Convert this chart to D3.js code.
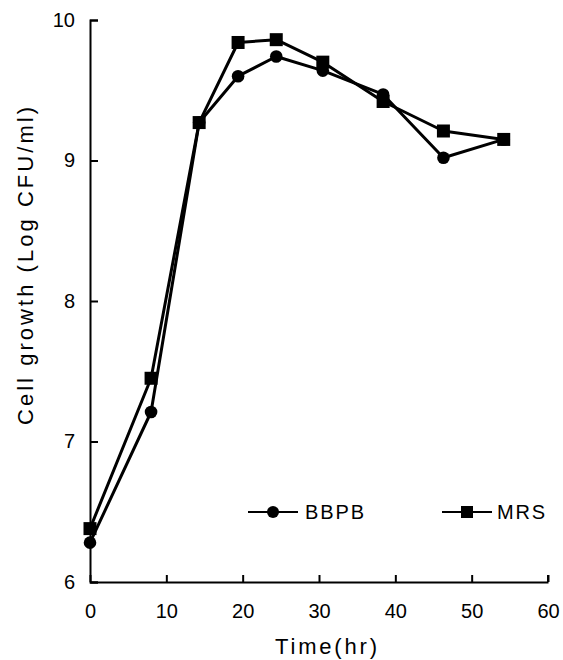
<!DOCTYPE html>
<html>
<head>
<meta charset="utf-8">
<script src="https://cdn.jsdelivr.net/npm/d3@7"></script>
<style>
  body { margin: 0; background: #fff; }
  svg { display: block; font-family: "Liberation Sans", Arial, sans-serif; }
</style>
</head>
<body>
<svg id="chart" width="563" height="660"></svg>
<script>
// sampling times (hr) and cell counts (log CFU/ml)
var times = [0, 8, 14.3, 19.4, 24.4, 30.5, 38.4, 46.3, 54.2];
var bbpb = [6.28, 7.21, 9.27, 9.60, 9.74, 9.64, 9.47, 9.02, 9.15];
var mrs = [6.38, 7.45, 9.27, 9.84, 9.86, 9.70, 9.42, 9.21, 9.15];
var seriesNames = ["BBPB", "MRS"];
var xTicks = [0, 10, 20, 30, 40, 50, 60];
var yTicks = [6, 7, 8, 9, 10];

var margin = {top: 20, right: 15, bottom: 78, left: 90};
var svg = d3.select("#chart");
var W = +svg.attr("width"), H = +svg.attr("height");
var w = W - margin.left - margin.right, h = H - margin.top - margin.bottom;

var g = svg.append("g").attr("transform", "translate(" + margin.left + "," + margin.top + ")");

var x = d3.scaleLinear().domain([0, 60]).range([0, w]);
var y = d3.scaleLinear().domain([6, 10]).range([h, 0]);

// axes, ticks pointing inward
var xAxis = g.append("g")
  .attr("transform", "translate(0," + h + ")")
  .call(d3.axisBottom(x).tickValues(xTicks).tickFormat(d3.format("d"))
    .tickSize(-7).tickSizeOuter(0).tickPadding(22));
var yAxis = g.append("g")
  .call(d3.axisLeft(y).tickValues(yTicks).tickFormat(d3.format("d"))
    .tickSize(-8).tickPadding(15));

[xAxis, yAxis].forEach(function(a){
  a.select(".domain").attr("stroke", "#000").attr("stroke-width", 2);
  a.selectAll(".tick line").attr("stroke", "#000").attr("stroke-width", 2);
  a.selectAll(".tick text").attr("fill", "#000").attr("font-size", 20)
    .attr("font-family", "Liberation Sans, Arial, sans-serif");
});
// right end tick of x axis
xAxis.append("line").attr("x1", x(60)).attr("x2", x(60)).attr("y1", 0).attr("y2", -7)
  .attr("stroke", "#000").attr("stroke-width", 2);

// axis titles
svg.append("text")
  .attr("x", 275).attr("y", 654)
  .attr("font-size", 22)
  .attr("textLength", 102).attr("lengthAdjust", "spacing")
  .text("Time(hr)");
svg.append("text")
  .attr("transform", "translate(33,425) rotate(-90)")
  .attr("font-size", 22)
  .attr("textLength", 318).attr("lengthAdjust", "spacing")
  .text("Cell growth (Log CFU/ml)");

var line = d3.line().x(function(d, i){ return x(times[i]); }).y(function(d){ return y(d); });

// BBPB
g.append("path").datum(bbpb).attr("d", line)
  .attr("fill", "none").attr("stroke", "#000").attr("stroke-width", 3).attr("stroke-linejoin", "round");
// MRS
g.append("path").datum(mrs).attr("d", line)
  .attr("fill", "none").attr("stroke", "#000").attr("stroke-width", 3).attr("stroke-linejoin", "round");

g.selectAll(".dot").data(bbpb).enter().append("circle")
  .attr("class", "dot")
  .attr("cx", function(d, i){ return x(times[i]); })
  .attr("cy", function(d){ return y(d); })
  .attr("r", 6.3).attr("fill", "#000");

var sq = 13;
g.selectAll(".sq").data(mrs).enter().append("rect")
  .attr("class", "sq")
  .attr("x", function(d, i){ return x(times[i]) - sq / 2; })
  .attr("y", function(d){ return y(d) - sq / 2; })
  .attr("width", sq).attr("height", sq).attr("fill", "#000");

// legend
var leg = svg.append("g");
var legY = 512;
leg.append("line").attr("x1", 248).attr("x2", 298).attr("y1", legY).attr("y2", legY)
  .attr("stroke", "#000").attr("stroke-width", 2);
leg.append("circle").attr("cx", 273).attr("cy", legY).attr("r", 6).attr("fill", "#000");
leg.append("text").attr("x", 305).attr("y", legY + 7).attr("font-size", 20)
  .attr("textLength", 59).attr("lengthAdjust", "spacing").text(seriesNames[0]);

leg.append("line").attr("x1", 442).attr("x2", 492).attr("y1", legY).attr("y2", legY)
  .attr("stroke", "#000").attr("stroke-width", 2);
leg.append("rect").attr("x", 467 - 6).attr("y", legY - 6).attr("width", 12).attr("height", 12).attr("fill", "#000");
leg.append("text").attr("x", 497).attr("y", legY + 7).attr("font-size", 20)
  .attr("textLength", 48).attr("lengthAdjust", "spacing").text(seriesNames[1]);
</script>
</body>
</html>
